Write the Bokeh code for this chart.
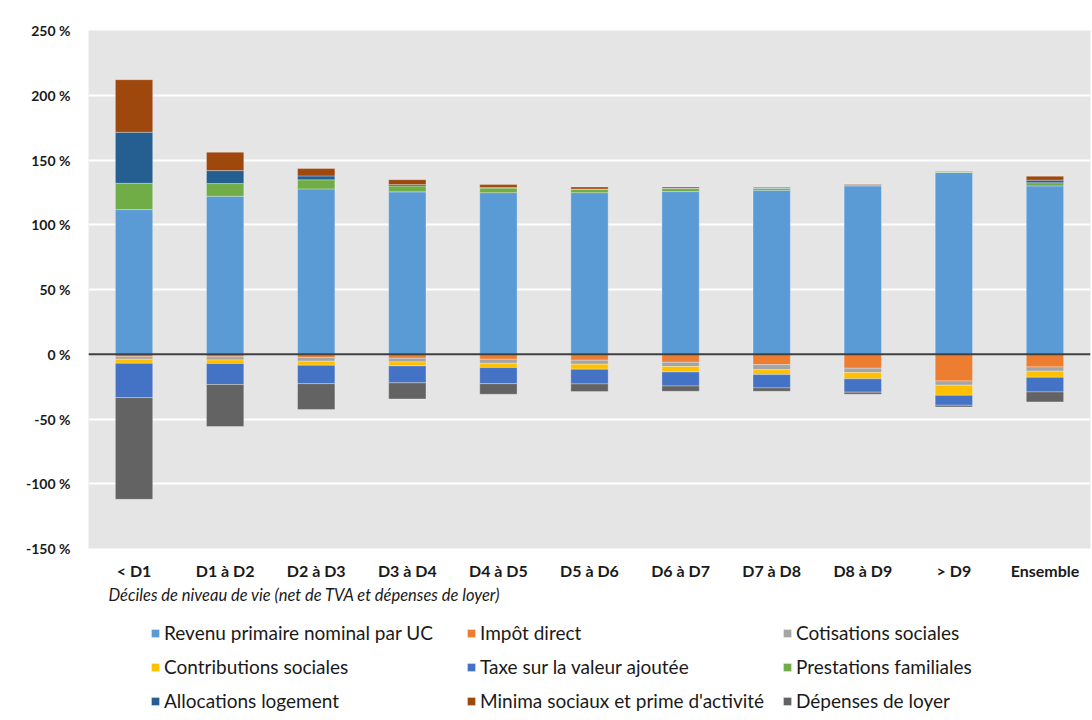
from bokeh.plotting import figure
from bokeh.layouts import column
from bokeh.models import (FixedTicker, Span, Legend, LegendItem, Title,
                          ColumnDataSource, Range1d)
from bokeh.embed import file_html
from bokeh.resources import INLINE

categories = ["< D1", "D1 à D2", "D2 à D3", "D3 à D4", "D4 à D5", "D5 à D6",
              "D6 à D7", "D7 à D8", "D8 à D9", "> D9", "Ensemble"]

# positive components (%)
revenu = [111.7, 122.0, 127.7, 125.4, 124.8, 124.8, 125.6, 126.6, 130.0, 140.3, 130.0]
prestations = [20.3, 9.8, 7.0, 4.6, 3.5, 2.6, 2.3, 1.5, 0.8, 0.5, 2.5]
allocations = [39.4, 10.0, 3.0, 1.0, 0.5, 0.2, 0.2, 0.3, 0.2, 0.2, 1.9]
minima = [40.6, 14.2, 5.7, 3.8, 2.2, 1.6, 1.0, 0.6, 0.5, 0.3, 3.1]

# negative components (%)
impot = [-2.0, -2.0, -2.6, -3.1, -3.9, -4.6, -6.2, -8.0, -10.8, -20.6, -9.8]
cotisations = [-1.9, -2.4, -2.8, -2.8, -3.1, -3.1, -3.3, -3.9, -3.3, -3.3, -3.3]
contributions = [-3.1, -2.8, -3.1, -3.1, -3.3, -3.9, -4.2, -3.8, -4.9, -7.8, -4.7]
tva = [-26.5, -16.2, -14.2, -13.1, -12.4, -11.3, -10.8, -10.3, -10.3, -7.7, -11.3]
loyer = [-78.5, -32.4, -20.0, -12.4, -8.2, -5.9, -4.1, -2.6, -1.6, -1.3, -7.7]

series_labels = {
    "revenu": "Revenu primaire nominal par UC",
    "impot": "Impôt direct",
    "cotisations": "Cotisations sociales",
    "contributions": "Contributions sociales",
    "tva": "Taxe sur la valeur ajoutée",
    "prestations": "Prestations familiales",
    "allocations": "Allocations logement",
    "minima": "Minima sociaux et prime d'activité",
    "loyer": "Dépenses de loyer",
}
colors = {
    "revenu": "#5B9BD5", "impot": "#ED7D31", "cotisations": "#A5A5A5",
    "contributions": "#FFC000", "tva": "#4472C4", "prestations": "#70AD47",
    "allocations": "#255E91", "minima": "#9E480E", "loyer": "#636363",
}
legend_order = ["revenu", "impot", "cotisations", "contributions", "tva",
                "prestations", "allocations", "minima", "loyer"]

y_ticks = [-150, -100, -50, 0, 50, 100, 150, 200, 250]
y_tick_labels = ["-150 %", "-100 %", "-50 %", "0 %", "50 %", "100 %", "150 %", "200 %", "250 %"]

source = ColumnDataSource(dict(
    cat=categories, revenu=revenu, prestations=prestations, allocations=allocations,
    minima=minima, impot=impot, cotisations=cotisations, contributions=contributions,
    tva=tva, loyer=loyer,
))

FONT = "Lato"
TXT = "#1a1a1a"

p = figure(x_range=categories, y_range=(-150, 250), width=1092, height=615,
           output_backend="svg", toolbar_location=None,
           min_border_left=88, min_border_right=2, min_border_top=30,
           min_border_bottom=67)
p.background_fill_color = "#E5E5E5"
p.border_fill_color = "white"
p.outline_line_color = None

pos = ["revenu", "prestations", "allocations", "minima"]
neg = ["impot", "cotisations", "contributions", "tva", "loyer"]
p.vbar_stack(pos, x="cat", width=0.41, source=source,
             fill_color=[colors[k] for k in pos],
             line_color="white", line_alpha=0.3, line_width=1)
p.vbar_stack(neg, x="cat", width=0.41, source=source,
             fill_color=[colors[k] for k in neg],
             line_color="white", line_alpha=0.3, line_width=1)

p.add_layout(Span(location=0, dimension="width", line_color="#404040", line_width=2))

# axes
p.yaxis.ticker = FixedTicker(ticks=y_ticks)
p.yaxis.major_label_overrides = {t: l for t, l in zip(y_ticks, y_tick_labels)}
p.yaxis.axis_line_color = None
p.yaxis.major_tick_line_color = None
p.yaxis.minor_tick_line_color = None
p.yaxis.major_label_text_font = FONT
p.yaxis.major_label_text_font_style = "bold"
p.yaxis.major_label_text_font_size = "14px"
p.yaxis.major_label_text_color = TXT
p.yaxis.major_label_standoff = 12

p.xaxis.axis_line_color = None
p.xaxis.major_tick_line_color = None
p.xaxis.major_label_text_font = FONT
p.xaxis.major_label_text_font_style = "bold"
p.xaxis.major_label_text_font_size = "16px"
p.xaxis.major_label_text_color = TXT
p.xaxis.major_label_standoff = 6

p.xgrid.grid_line_color = None
p.ygrid.ticker = FixedTicker(ticks=[t for t in y_ticks if t != 0])
p.ygrid.grid_line_color = "white"
p.ygrid.grid_line_width = 2

p.add_layout(Title(text="Déciles de niveau de vie (net de TVA et dépenses de loyer)",
                   align="left", offset=20, text_font=FONT, text_font_style="italic",
                   text_font_size="16.5px", text_color=TXT, standoff=0), "below")

# legend panel (separate figure below the chart)
lg = figure(width=1092, height=105, output_backend="svg", toolbar_location=None,
            x_range=Range1d(0, 1), y_range=Range1d(0, 1),
            min_border_left=88, min_border_right=2, min_border_top=0,
            min_border_bottom=0)
lg.axis.visible = False
lg.grid.visible = False
lg.outline_line_color = None
lg.border_fill_color = "white"
lg.background_fill_color = "white"
lg_renderers = {k: lg.vbar(x=[0], top=[0], width=0, fill_color=colors[k],
                           line_color="white", line_alpha=0.3, visible=False)
                for k in legend_order}
items = [LegendItem(label=series_labels[k], renderers=[lg_renderers[k]]) for k in legend_order]
legend = Legend(items=items, location=(62, 8), orientation="horizontal", ncols=3,
                glyph_width=10, glyph_height=10, label_standoff=4, label_width=291,
                label_height=20, spacing=11, padding=0, margin=0,
                border_line_color=None, background_fill_alpha=0,
                label_text_font=FONT, label_text_font_size="19px",
                label_text_color=TXT)
lg.add_layout(legend, "center")

open("out.html", "w").write(file_html(column(p, lg), INLINE))
